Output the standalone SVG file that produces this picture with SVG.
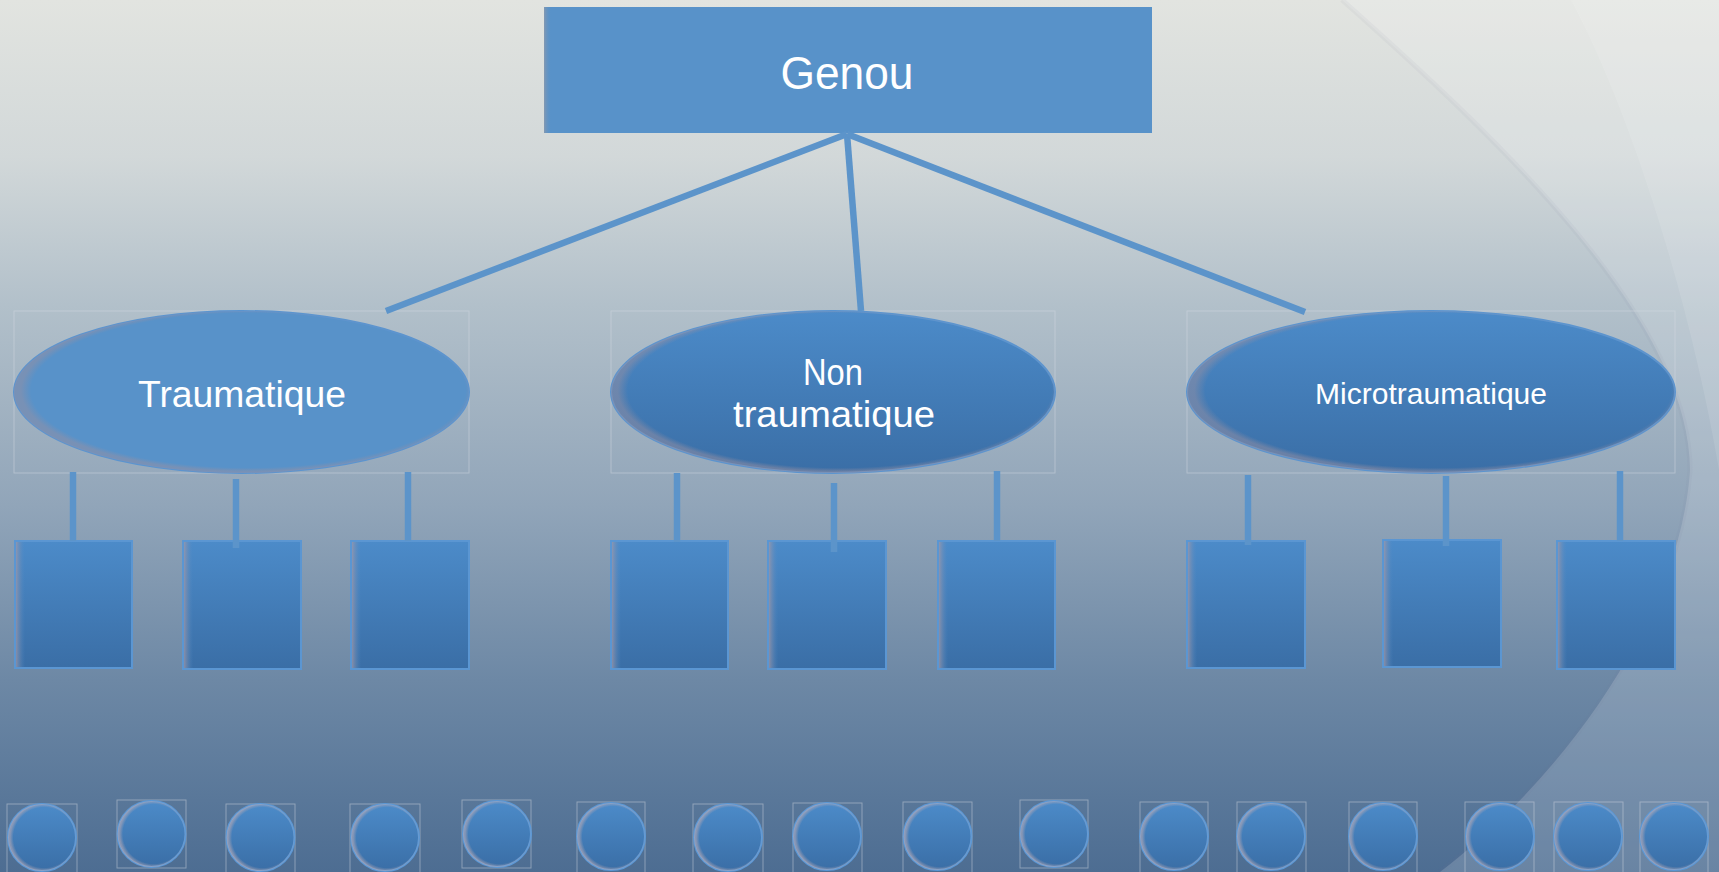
<svg xmlns="http://www.w3.org/2000/svg" width="1719" height="872" viewBox="0 0 1719 872">
<defs>
<linearGradient id="bg" x1="0" y1="0" x2="0" y2="1">
<stop offset="0" stop-color="#e2e4e0"/>
<stop offset="0.18" stop-color="#d2d8d9"/>
<stop offset="0.35" stop-color="#b2c0ca"/>
<stop offset="0.58" stop-color="#91a5b9"/>
<stop offset="0.78" stop-color="#6d88a5"/>
<stop offset="1" stop-color="#4d6d92"/>
</linearGradient>
<linearGradient id="boxGrad" x1="0" y1="0" x2="0" y2="1">
<stop offset="0" stop-color="#4c8bc9"/>
<stop offset="1" stop-color="#3a6ea6"/>
</linearGradient>
<linearGradient id="leftShade" x1="0" y1="0" x2="1" y2="0">
<stop offset="0" stop-color="#a89aa6" stop-opacity="0.7"/>
<stop offset="0.08" stop-color="#4c8bc9" stop-opacity="0"/>
</linearGradient>
<linearGradient id="leftShadeThin" x1="0" y1="0" x2="1" y2="0">
<stop offset="0" stop-color="#8e9aab" stop-opacity="0.8"/>
<stop offset="0.012" stop-color="#5892c9" stop-opacity="0"/>
</linearGradient>
<radialGradient id="rim" cx="0.515" cy="0.49" r="0.5">
<stop offset="0.955" stop-color="#9890a2" stop-opacity="0"/>
<stop offset="1" stop-color="#9890a2" stop-opacity="0.5"/>
</radialGradient>
<radialGradient id="rimC" cx="0.53" cy="0.5" r="0.5">
<stop offset="0.9" stop-color="#b4a8b4" stop-opacity="0"/>
<stop offset="1" stop-color="#b4a8b4" stop-opacity="0.6"/>
</radialGradient>
<style>
.bgov{fill:#ffffff}
.frame{fill:none;stroke:#d4dbe3;stroke-opacity:0.45;stroke-width:1}
.box{fill:url(#boxGrad);stroke:#5b96d2;stroke-width:2}
.shade{fill:url(#leftShade)}
.ell{stroke:#5b94cf;stroke-width:2}
.rim{fill:url(#rim)}
.circ{fill:url(#boxGrad);stroke:#5b98d6;stroke-width:2}
.rimc{fill:url(#rimC)}
.conn{stroke:#5c94ca;stroke-width:6.5;fill:none;stroke-linecap:butt}
.lbl{font-family:"Liberation Sans",Arial,sans-serif;fill:#ffffff;text-anchor:middle}
</style>
</defs>

<g id="background">
<rect x="0" y="0" width="1719" height="872" fill="url(#bg)"/>
<path class="bgov" fill-opacity="0.16" d="M1342,0 C1500,140 1690,320 1690,470 C1680,620 1560,780 1440,872 L1719,872 L1719,0 Z"/>
<path class="bgov" fill-opacity="0.1" d="M1571,0 C1630,110 1690,300 1719,470 L1719,0 Z"/>
<path d="M1342,0 C1500,140 1690,320 1690,470 C1680,620 1560,780 1440,872" fill="none" stroke="#6f7f92" stroke-opacity="0.06" stroke-width="5"/>
</g>

<g id="node-genou">
<rect x="544" y="7" width="608" height="126" fill="#5892c9"/>
<rect x="544" y="7" width="608" height="126" fill="url(#leftShadeThin)"/>
<text class="lbl" x="847" y="89" font-size="46" textLength="133" lengthAdjust="spacingAndGlyphs">Genou</text>
</g>

<g id="node-traumatique">
<rect class="frame" x="14" y="311" width="455" height="162"/>
<ellipse class="ell" cx="241.5" cy="392" rx="227.5" ry="81" fill="#5892c9" stroke="#5a8fc6"/>
<ellipse cx="241.5" cy="392" rx="227.5" ry="81" class="rim"/>
<text class="lbl" x="242" y="407" font-size="37" textLength="208" lengthAdjust="spacingAndGlyphs">Traumatique</text>
</g>

<g id="node-non-traumatique">
<rect class="frame" x="611" y="311" width="444" height="162"/>
<ellipse class="ell" cx="833" cy="392" rx="222" ry="81" fill="url(#boxGrad)"/>
<ellipse cx="833" cy="392" rx="222" ry="81" class="rim"/>
<text class="lbl" x="833" y="385" font-size="37" textLength="60" lengthAdjust="spacingAndGlyphs">Non</text>
<text class="lbl" x="834" y="427" font-size="37" textLength="202" lengthAdjust="spacingAndGlyphs">traumatique</text>
</g>

<g id="node-microtraumatique">
<rect class="frame" x="1187" y="311" width="488" height="162"/>
<ellipse class="ell" cx="1431" cy="392" rx="244" ry="81" fill="url(#boxGrad)"/>
<ellipse cx="1431" cy="392" rx="244" ry="81" class="rim"/>
<text class="lbl" x="1431" y="404" font-size="30" textLength="232" lengthAdjust="spacingAndGlyphs">Microtraumatique</text>
</g>

<g id="node-t1"><rect class="box" x="15" y="541" width="117" height="127"/><rect class="shade" x="16" y="542" width="115" height="125"/></g>
<g id="node-t2"><rect class="box" x="183" y="541" width="118" height="128"/><rect class="shade" x="184" y="542" width="116" height="126"/></g>
<g id="node-t3"><rect class="box" x="351" y="541" width="118" height="128"/><rect class="shade" x="352" y="542" width="116" height="126"/></g>
<g id="node-n1"><rect class="box" x="611" y="541" width="117" height="128"/><rect class="shade" x="612" y="542" width="115" height="126"/></g>
<g id="node-n2"><rect class="box" x="768" y="541" width="118" height="128"/><rect class="shade" x="769" y="542" width="116" height="126"/></g>
<g id="node-n3"><rect class="box" x="938" y="541" width="117" height="128"/><rect class="shade" x="939" y="542" width="115" height="126"/></g>
<g id="node-m1"><rect class="box" x="1187" y="541" width="118" height="127"/><rect class="shade" x="1188" y="542" width="116" height="125"/></g>
<g id="node-m2"><rect class="box" x="1383" y="540" width="118" height="127"/><rect class="shade" x="1384" y="541" width="116" height="125"/></g>
<g id="node-m3"><rect class="box" x="1557" y="541" width="118" height="128"/><rect class="shade" x="1558" y="542" width="116" height="126"/></g>

<g id="node-c1"><rect class="frame" x="7" y="804" width="70" height="70"/><ellipse class="circ" cx="42" cy="837.5" rx="34" ry="33.5"/><ellipse class="rimc" cx="42" cy="837.5" rx="34" ry="33.5"/></g>
<g id="node-c2"><rect class="frame" x="117" y="800" width="69" height="68"/><ellipse class="circ" cx="151.5" cy="834" rx="34" ry="33"/><ellipse class="rimc" cx="151.5" cy="834" rx="34" ry="33"/></g>
<g id="node-c3"><rect class="frame" x="226" y="804" width="69" height="70"/><ellipse class="circ" cx="260.5" cy="837.5" rx="34" ry="33.5"/><ellipse class="rimc" cx="260.5" cy="837.5" rx="34" ry="33.5"/></g>
<g id="node-c4"><rect class="frame" x="350" y="804" width="70" height="70"/><ellipse class="circ" cx="385" cy="837.5" rx="34" ry="33.5"/><ellipse class="rimc" cx="385" cy="837.5" rx="34" ry="33.5"/></g>
<g id="node-c5"><rect class="frame" x="462" y="800" width="69" height="68"/><ellipse class="circ" cx="497" cy="834" rx="34" ry="33"/><ellipse class="rimc" cx="497" cy="834" rx="34" ry="33"/></g>
<g id="node-c6"><rect class="frame" x="577" y="802" width="68" height="72"/><ellipse class="circ" cx="611" cy="836.5" rx="34" ry="33.5"/><ellipse class="rimc" cx="611" cy="836.5" rx="34" ry="33.5"/></g>
<g id="node-c7"><rect class="frame" x="693" y="804" width="70" height="70"/><ellipse class="circ" cx="728" cy="837.5" rx="34" ry="33.5"/><ellipse class="rimc" cx="728" cy="837.5" rx="34" ry="33.5"/></g>
<g id="node-c8"><rect class="frame" x="793" y="803" width="69" height="71"/><ellipse class="circ" cx="827" cy="836.5" rx="34" ry="33.5"/><ellipse class="rimc" cx="827" cy="836.5" rx="34" ry="33.5"/></g>
<g id="node-c9"><rect class="frame" x="903" y="802" width="69" height="72"/><ellipse class="circ" cx="937.5" cy="836.5" rx="34" ry="33.5"/><ellipse class="rimc" cx="937.5" cy="836.5" rx="34" ry="33.5"/></g>
<g id="node-c10"><rect class="frame" x="1020" y="800" width="68" height="68"/><ellipse class="circ" cx="1054" cy="834" rx="34" ry="33"/><ellipse class="rimc" cx="1054" cy="834" rx="34" ry="33"/></g>
<g id="node-c11"><rect class="frame" x="1140" y="802" width="68" height="72"/><ellipse class="circ" cx="1174" cy="836.5" rx="34" ry="33.5"/><ellipse class="rimc" cx="1174" cy="836.5" rx="34" ry="33.5"/></g>
<g id="node-c12"><rect class="frame" x="1237" y="802" width="69" height="72"/><ellipse class="circ" cx="1271" cy="836.5" rx="34" ry="33.5"/><ellipse class="rimc" cx="1271" cy="836.5" rx="34" ry="33.5"/></g>
<g id="node-c13"><rect class="frame" x="1349" y="802" width="68" height="72"/><ellipse class="circ" cx="1383" cy="836.5" rx="34" ry="33.5"/><ellipse class="rimc" cx="1383" cy="836.5" rx="34" ry="33.5"/></g>
<g id="node-c14"><rect class="frame" x="1465" y="802" width="69" height="72"/><ellipse class="circ" cx="1500" cy="836.5" rx="34" ry="33.5"/><ellipse class="rimc" cx="1500" cy="836.5" rx="34" ry="33.5"/></g>
<g id="node-c15"><rect class="frame" x="1554" y="802" width="69" height="72"/><ellipse class="circ" cx="1588" cy="836.5" rx="34" ry="33.5"/><ellipse class="rimc" cx="1588" cy="836.5" rx="34" ry="33.5"/></g>
<g id="node-c16"><rect class="frame" x="1640" y="802" width="68" height="72"/><ellipse class="circ" cx="1674" cy="836.5" rx="34" ry="33.5"/><ellipse class="rimc" cx="1674" cy="836.5" rx="34" ry="33.5"/></g>

<g id="connectors">
<line class="conn" x1="847" y1="134" x2="386" y2="311"/>
<line class="conn" x1="847" y1="134" x2="861" y2="311"/>
<line class="conn" x1="847" y1="134" x2="1305" y2="312"/>
<line class="conn" x1="73" y1="472" x2="73" y2="541"/>
<line class="conn" x1="236" y1="479" x2="236" y2="548"/>
<line class="conn" x1="408" y1="472" x2="408" y2="541"/>
<line class="conn" x1="677" y1="473" x2="677" y2="542"/>
<line class="conn" x1="834" y1="483" x2="834" y2="552"/>
<line class="conn" x1="997" y1="471" x2="997" y2="541"/>
<line class="conn" x1="1248" y1="475" x2="1248" y2="545"/>
<line class="conn" x1="1446" y1="476" x2="1446" y2="546"/>
<line class="conn" x1="1620" y1="471" x2="1620" y2="541"/>
</g>
</svg>
